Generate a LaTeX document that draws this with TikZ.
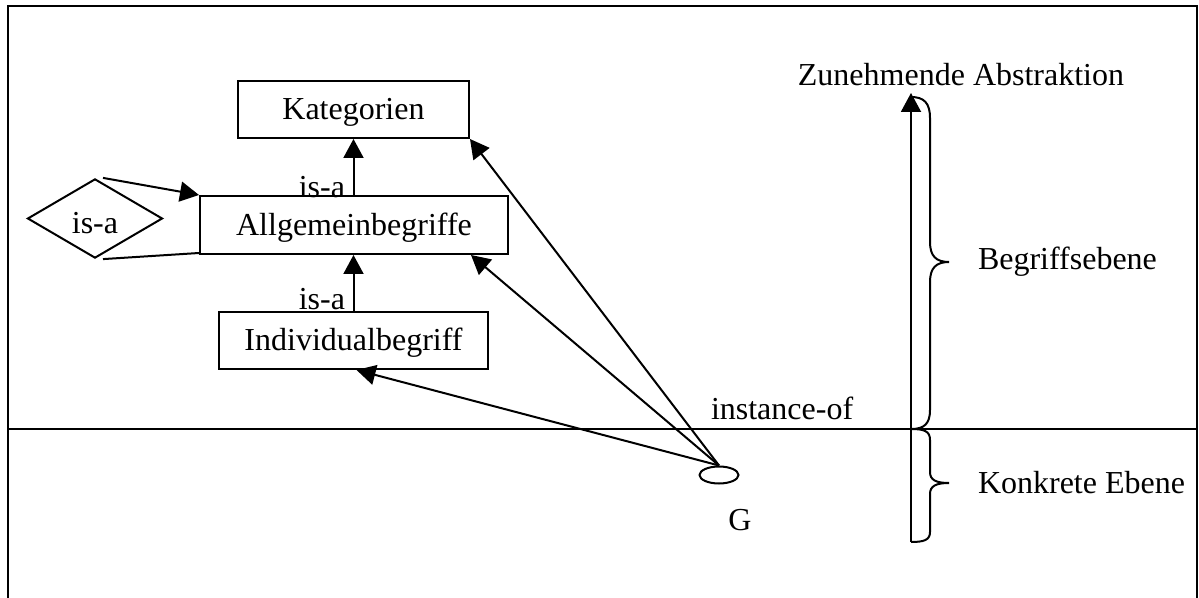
\documentclass[tikz,border=0pt]{standalone}
\usepackage{fontspec}
\setmainfont{Liberation Serif}
\usetikzlibrary{shapes.geometric,arrows.meta}
\begin{document}
\begin{tikzpicture}[x=0.5pt,y=-0.5pt,
  font=\fontsize{16}{19}\selectfont,
  line width=1pt,
  concept/.style={draw,rectangle,inner sep=0pt,minimum height=28.5pt,
    text height=11pt,text depth=0.5pt},
  relation/.style={draw,diamond,inner sep=0pt,minimum width=67.5pt,minimum height=38.5pt,
    text height=16pt,text depth=0.5pt},
  thing/.style={draw,ellipse,inner sep=0pt,minimum width=19.5pt,minimum height=8.5pt},
  link/.style={-{Triangle[length=9.5pt,width=10pt]}},
  lbl/.style={inner sep=0pt}]
\useasboundingbox (0,0) rectangle (1199,598);
% outer frame (open at the bottom edge of the page)
\begin{scope}
  \clip (0,0) rectangle (1199,598);
  \draw (8,6) rectangle (1197,610);
\end{scope}
% separator between concept level and concrete level
\coordinate (sepL) at (8,429);
\coordinate (sepR) at (1197,429);
\draw[line width=0.8pt] (sepL) -- (sepR);

% concept hierarchy
\node[concept,minimum width=115.5pt] (kat) at (353.5,109.5) {Kategorien};
\node[concept,minimum width=154pt,minimum height=29pt] (allg) at (354,225) {Allgemeinbegriffe};
\node[concept,minimum width=134.5pt] (ind) at (353.5,340.5) {Individualbegriff};
\node[relation] (rel) at (95,218.5) {is-a};
\node[thing] (g) at (719,475) {};
\node[lbl] (glbl) at (740,520) {G};

% is-a links
\draw[link] (allg.north -| kat.south) -- (kat.south);
\draw[link] (ind.north) -- (ind.north |- allg.south);
\node[lbl,anchor=east] (isa1) at (346,187) {is-a};
\node[lbl,anchor=east] (isa2) at (346,299) {is-a};
\draw[link] ([xshift=4pt]rel.north) -- (allg.north west);
\draw ([xshift=4pt]rel.south) -- ([yshift=1pt]allg.south west);

% instance-of links
\draw[link] (g.north) -- (kat.south east);
\draw[link] (g.north) -- ([xshift=-19pt]allg.south east);
\draw[link] (g.north) -- ([xshift=1.5pt]ind.south);
\node[lbl,anchor=west] (inst) at (710,408) {instance-of};

% abstraction axis with braces
\coordinate (axisLow) at (911,542);
\coordinate (axisTop) at (911,93);
\coordinate (axisMid) at (911,429);
\draw[link] (axisLow) -- (axisTop);
\node[lbl,anchor=base] (abs) at (961,86) {Zunehmende Abstraktion};
\draw (911,97) .. controls (924,97) and (930,103) .. (930,118)
  -- (930,242) .. controls (930,256) and (936,262) .. (949,262)
  .. controls (936,262) and (930,268) .. (930,282)
  -- (930,410) .. controls (930,424) and (924,429) .. (axisMid);
\draw (axisMid) .. controls (924,429) and (930,431) .. (930,440)
  -- (930,472) .. controls (930,480) and (936,483) .. (949,483)
  .. controls (936,483) and (930,486) .. (930,494)
  -- (930,532) .. controls (930,540) and (924,542) .. (axisLow);
\node[lbl,anchor=west] (begr) at (977,262) {Begriffsebene};
\node[lbl,anchor=west] (konk) at (977,483) {Konkrete Ebene};
\end{tikzpicture}
\end{document}
